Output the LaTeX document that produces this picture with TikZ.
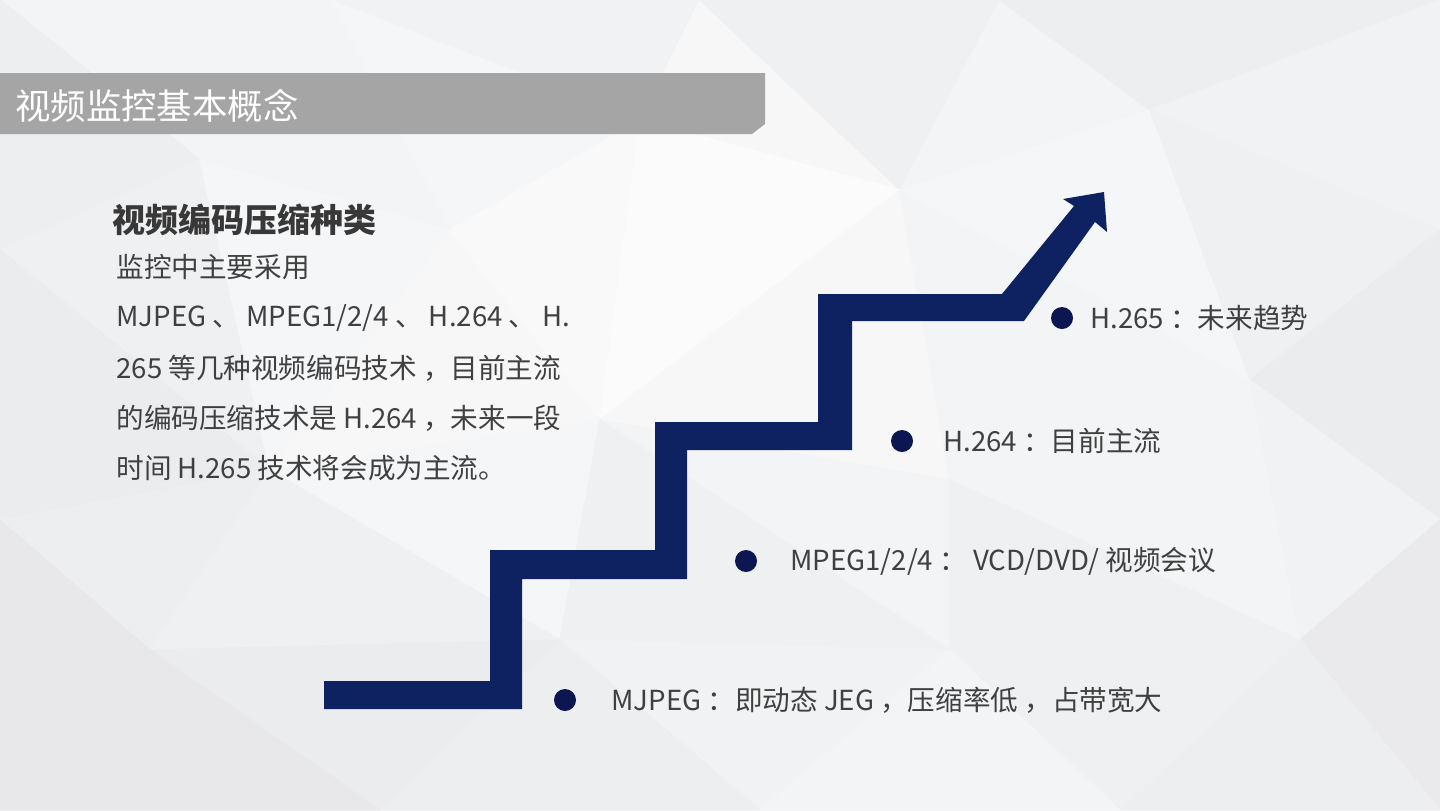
\documentclass[tikz,border=0pt]{standalone}
\usepackage{fontspec}
\setmainfont{Noto Sans CJK SC}
\definecolor{navy}{RGB}{14,33,96}
\definecolor{dotc}{RGB}{12,22,80}
\definecolor{txt}{RGB}{64,64,64}
\definecolor{barc}{RGB}{165,165,165}
\definecolor{bgc}{RGB}{60,66,86}
\tikzset{
  tri/.style={fill=bgc!#1!white, draw=bgc!#1!white, line width=0.6pt, line join=round},
  body/.style={font=\fontsize{13.8pt}{16pt}\selectfont, text=txt, inner sep=0pt, anchor=west},
  bullet/.style={circle, fill=dotc, minimum size=11pt, inner sep=0pt},
}
\begin{document}
\begin{tikzpicture}[x=0.5pt,y=-0.5pt]
\useasboundingbox (0,0) rectangle (1440,810);
% background low-poly
\coordinate (A) at (0,0); \coordinate (B) at (330,0); \coordinate (C) at (700,0);
\coordinate (D) at (1000,0); \coordinate (E) at (1440,0);
\coordinate (F) at (0,250); \coordinate (G) at (200,160); \coordinate (H) at (450,230);
\coordinate (I) at (640,120); \coordinate (J) at (900,190); \coordinate (K) at (1150,110);
\coordinate (L) at (1440,230);
\coordinate (M) at (0,520); \coordinate (N) at (270,470); \coordinate (O) at (600,420);
\coordinate (P) at (950,480); \coordinate (Q) at (1250,380); \coordinate (R) at (1440,520);
\coordinate (S) at (0,810); \coordinate (T) at (380,810); \coordinate (U) at (760,810);
\coordinate (V) at (1120,810); \coordinate (W) at (1440,810);
\coordinate (X) at (150,650); \coordinate (Y) at (560,640); \coordinate (Z) at (950,650);
\coordinate (AA) at (1300,640);
\begin{scope}
\clip (0,0) rectangle (1440,810);
\fill[tri=6] (A)--(B)--(G)--cycle;
\fill[tri=9] (A)--(G)--(F)--cycle;
\fill[tri=7] (B)--(C)--(I)--cycle;
\fill[tri=5] (B)--(I)--(H)--cycle;
\fill[tri=6] (B)--(H)--(G)--cycle;
\fill[tri=4] (C)--(I)--(J)--cycle;
\fill[tri=8] (C)--(J)--(D)--cycle;
\fill[tri=6] (D)--(J)--(K)--cycle;
\fill[tri=9] (D)--(K)--(E)--cycle;
\fill[tri=7] (E)--(K)--(L)--cycle;
\fill[tri=8] (F)--(G)--(N)--cycle;
\fill[tri=10] (F)--(N)--(M)--cycle;
\fill[tri=5] (G)--(H)--(N)--cycle;
\fill[tri=4] (H)--(O)--(N)--cycle;
\fill[tri=3] (H)--(I)--(O)--cycle;
\fill[tri=2] (I)--(J)--(O)--cycle;
\fill[tri=4] (J)--(P)--(O)--cycle;
\fill[tri=6] (J)--(Q)--(P)--cycle;
\fill[tri=5] (J)--(K)--(Q)--cycle;
\fill[tri=8] (K)--(L)--(Q)--cycle;
\fill[tri=10] (L)--(R)--(Q)--cycle;
\fill[tri=9] (M)--(N)--(X)--cycle;
\fill[tri=12] (M)--(X)--(S)--cycle;
\fill[tri=5] (N)--(O)--(Y)--cycle;
\fill[tri=8] (N)--(Y)--(X)--cycle;
\fill[tri=10] (X)--(Y)--(T)--cycle;
\fill[tri=12] (X)--(T)--(S)--cycle;
\fill[tri=6] (O)--(P)--(Z)--cycle;
\fill[tri=8] (O)--(Z)--(Y)--cycle;
\fill[tri=7] (Y)--(Z)--(U)--cycle;
\fill[tri=9] (Y)--(U)--(T)--cycle;
\fill[tri=6] (P)--(Q)--(AA)--cycle;
\fill[tri=8] (P)--(AA)--(Z)--cycle;
\fill[tri=7] (Q)--(R)--(AA)--cycle;
\fill[tri=11] (R)--(W)--(AA)--cycle;
\fill[tri=9] (AA)--(W)--(V)--cycle;
\fill[tri=8] (AA)--(V)--(Z)--cycle;
\fill[tri=6] (Z)--(V)--(U)--cycle;
\end{scope}
% title bar
\fill[barc] (0,73) -- (765,73) -- (765,124) -- (752,134) -- (0,134) -- cycle;
\node[font=\fontsize{17.7pt}{20pt}\selectfont, text=white, inner sep=0pt, anchor=west] (title) at (15,106) {视频监控基本概念};
% left text
\node[font=\bfseries\fontsize{16.5pt}{19pt}\selectfont, text=black!78, inner sep=0pt, anchor=west] (head) at (112,220) {视频编码压缩种类};
\node[body] (l1) at (116,267) {监控中主要采用};
\node[body] (l2) at (116,318) {MJPEG 、 MPEG1/2/4 、 H.264 、 H.};
\node[body] (l3) at (116,368) {265 等几种视频编码技术 ，目前主流};
\node[body] (l4) at (116,418) {的编码压缩技术是 H.264 ，未来一段};
\node[body] (l5) at (116,468) {时间 H.265 技术将会成为主流。};
% staircase arrow
\fill[navy] (324,709) -- (522,709) -- (522,579) -- (687,579) -- (687,450) -- (852,450)
  -- (852,321) -- (1024,321) -- (1095,222) -- (1107,232) -- (1104,192) -- (1063,199)
  -- (1074,206) -- (1002,294) -- (818,294) -- (818,422) -- (655,422) -- (655,550)
  -- (490,550) -- (490,681) -- (324,681) -- cycle;
% bullets and labels
\node[bullet] (b1) at (565,700) {};
\node[body] (t1) at (611,700) {MJPEG ：即动态 JEG ，压缩率低 ，占带宽大};
\node[bullet] (b2) at (746,561) {};
\node[body] (t2) at (790,561) {MPEG1/2/4 ：  VCD/DVD/ 视频会议};
\node[bullet] (b3) at (902,441) {};
\node[body] (t3) at (943,441) {H.264 ：目前主流};
\node[bullet] (b4) at (1062,318) {};
\node[body] (t4) at (1090,318) {H.265 ：未来趋势};
\end{tikzpicture}
\end{document}
